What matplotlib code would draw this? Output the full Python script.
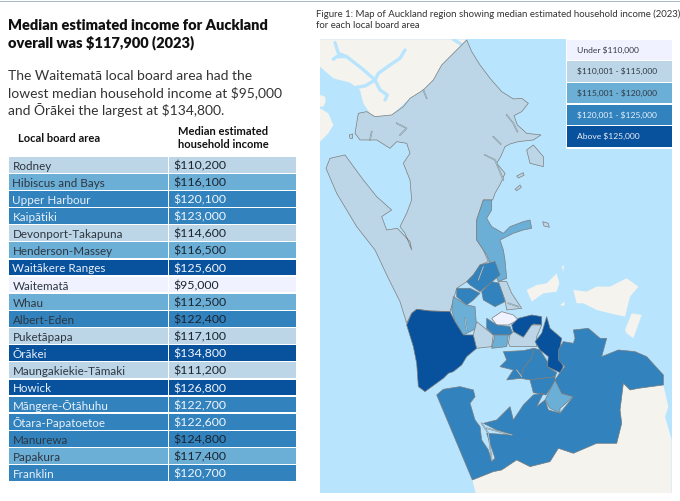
import matplotlib
matplotlib.use("Agg")
import matplotlib.pyplot as plt
from matplotlib.patches import Rectangle, Polygon

plt.rcParams['font.family'] = ['Lato', 'DejaVu Sans']

# ---- data ----
TITLE = ["Median estimated income for Auckland", "overall was \\$117,900 (2023)"]
INTRO = ["The Waitematā local board area had the",
         "lowest median household income at \\$95,000",
         "and Ōrākei the largest at \\$134,800."]
CAPTION = ["Figure 1: Map of Auckland region showing median estimated household income (2023)",
           "for each local board area"]
boards = ["Rodney", "Hibiscus and Bays", "Upper Harbour", "Kaipātiki", "Devonport-Takapuna",
          "Henderson-Massey", "Waitākere Ranges", "Waitematā", "Whau", "Albert-Eden",
          "Puketāpapa", "Ōrākei", "Maungakiekie-Tāmaki", "Howick", "Māngere-Ōtāhuhu",
          "Ōtara-Papatoetoe", "Manurewa", "Papakura", "Franklin"]
incomes = [110200, 116100, 120100, 123000, 114600, 116500, 125600, 95000, 112500, 122400,
           117100, 134800, 111200, 126800, 122700, 122600, 124800, 117400, 120700]
table_class = [1, 2, 3, 3, 1, 2, 4, 0, 2, 3, 1, 4, 1, 4, 3, 3, 3, 2, 3]
light_text = [0, 0, 1, 1, 0, 0, 1, 0, 0, 0, 0, 1, 0, 1, 1, 1, 0, 0, 1]
legend_labels = ["Under \\$110,000", "\\$110,001 - \\$115,000", "\\$115,001 - \\$120,000",
                 "\\$120,001 - \\$125,000", "Above \\$125,000"]
legend_light = [0, 0, 0, 1, 1]
palette = ["#f0f3ff", "#bcd6e7", "#6baed6", "#3182bd", "#08519c"]

# map outlines, in the reference's map coordinates
rodney = [(470,120),(485,155),(510,195),(540,235),(575,275),(610,297),(635,295),(655,310),(635,335),
          (612,347),(622,375),(650,400),(693,405),(670,420),(625,425),(600,432),(585,440),(572,470),
          (560,490),(585,520),(572,550),(555,580),(548,600),(520,600),(500,660),(500,720),(520,750),
          (535,785),(510,795),(490,825),(470,845),(440,865),(430,900),(420,935),(360,933),(320,928),
          (305,940),(290,970),(270,905),(235,835),(195,750),(140,680),(80,580),(48,505),(60,475),
          (105,465),(160,540),(200,590),(245,630),(215,650),(230,690),(262,685),(300,725),(305,750),
          (285,700),(270,680),(290,640),(305,600),(300,540),(280,490),(300,460),(290,430),(260,425),
          (240,445),(200,420),(150,420),(135,400),(145,340),(170,335),(195,350),(245,345),(280,320),
          (300,295),(340,270),(370,240),(395,195),(440,150)]
hibiscus = [(520,600),(545,600),(545,630),(530,655),(545,680),(580,700),(600,680),(640,665),(660,660),
            (665,685),(640,690),(610,700),(570,720),(580,750),(585,780),(590,835),(565,845),(545,800),
            (530,765),(520,750),(500,720),(500,660)]
upper_harbour = [(510,795),(555,785),(570,825),(540,850),(510,875),(480,855),(470,845),(490,825)]
kaipatiki = [(545,845),(570,850),(585,905),(555,920),(520,900),(515,875)]
devonport = [(565,845),(590,845),(605,880),(635,925),(590,930),(585,900)]
west_board = [(440,865),(480,865),(510,880),(490,900),(470,915),(440,890)]
henderson = [(430,890),(470,915),(495,920),(500,985),(460,1005),(435,965),(425,930)]
waitakere = [(290,975),(305,940),(320,928),(360,933),(420,935),(435,965),(460,1005),(490,1005),
             (500,1045),(470,1070),(455,1095),(430,1115),(415,1120),(400,1135),(345,1175),(325,1160),
             (320,1090),(310,1040)]
whau = [(490,1005),(500,965),(525,985),(550,1005),(545,1040),(500,1045)]
waitemata = [(545,955),(575,935),(610,945),(625,960),(595,975),(560,975)]
albert_eden = [(530,955),(560,975),(600,980),(610,1005),(575,1005),(550,1005),(530,985)]
orakei = [(625,955),(665,945),(695,950),(695,975),(670,972),(665,990),(640,1012),(610,995),(605,975)]
puketapapa = [(555,1005),(595,1005),(590,1040),(545,1045)]
maungakiekie = [(600,1005),(610,995),(640,1012),(665,975),(695,975),(680,1010),(680,1040),(600,1040),(595,1030)]
howick = [(710,950),(720,985),(755,1015),(745,1070),(760,1100),(750,1118),(712,1100),(715,1070),(690,1050),(675,1025),(695,1000)]
mangere = [(580,1055),(640,1052),(672,1045),(665,1075),(640,1105),(632,1135),(590,1140),(610,1110),(570,1100),(590,1080)]
otara = [(672,1045),(690,1050),(712,1085),(712,1100),(740,1118),(735,1130),(660,1140),(632,1135),(640,1105),(665,1075)]
manurewa = [(660,1140),(735,1130),(735,1145),(718,1170),(708,1185),(670,1178)]
papakura = [(735,1140),(750,1160),(755,1180),(790,1190),(750,1225),(750,1240),(720,1225),(705,1200),(720,1170)]
franklin = [(790,990),(835,985),(870,1015),(890,1015),(875,1070),(925,1050),(975,1055),(1010,1070),(1060,1125),
            (1060,1155),(985,1165),(960,1170),(940,1150),(930,1230),(935,1270),(920,1330),(860,1330),(790,1360),
            (745,1345),(720,1385),(660,1400),(620,1380),(575,1410),(550,1415),(487,1440),(380,1185),(400,1168),
            (450,1160),(490,1170),(495,1190),(480,1210),(495,1260),(510,1280),(515,1320),(535,1350),(545,1385),
            (555,1375),(540,1330),(530,1300),(610,1305),(560,1290),(520,1270),(560,1260),(600,1220),(610,1260),
            (640,1215),(670,1185),(700,1180),(680,1220),(705,1200),(715,1230),(750,1240),(790,1190),(755,1180),
            (735,1140),(750,1118),(765,1100),(745,1080),(745,1050),(760,1025),(790,1030),(795,1015)]
kawau = [(650,450),(670,435),(700,470),(700,500),(660,490)]
islets = [[(620,528),(640,518),(642,526),(625,534)], [(615,568),(630,555),(634,562),(620,572)],
          [(698,665),(715,670),(718,682),(702,678)], [(118,405),(128,402),(128,415),(120,415)]]
land_north = [(30,118),(470,118),(440,150),(395,195),(370,240),(340,270),(300,295),(245,345),(195,350),
              (180,340),(160,310),(150,270),(120,248),(70,235),(30,200)]
land_bits = [[(30,285),(45,290),(47,305),(40,320),(30,320)], [(30,325),(55,340),(70,375),(55,400),(30,425)],
             [(487,1440),(550,1415),(575,1410),(620,1380),(660,1400),(720,1385),(745,1345),(790,1360),(860,1330),
              (920,1330),(935,1270),(930,1230),(940,1150),(960,1170),(1060,1155),(1075,1220),(1065,1250),
              (1085,1320),(1085,1480),(497,1480)],
             [(650,870),(680,855),(710,850),(740,820),(748,850),(740,875),(700,880),(665,905)],
             [(790,870),(830,875),(860,860),(900,860),(950,835),(985,860),(960,890),(945,950),(900,940),(860,930),(820,910),(800,910)],
             [(945,990),(965,940),(995,945),(970,1015),(950,1000)],
             [(750,915),(765,905),(762,918)], [(755,800),(762,795),(760,815)]]
north_inlets = [[(75,128),(85,160),(110,170),(155,205),(195,240),(205,220),(240,195),(270,175),(285,150)],
                [(110,170),(80,170),(70,178)], [(195,240),(165,258),(140,262)],
                [(195,240),(210,270),(232,285),(225,300)], [(430,118),(452,132)]]
rodney_inlets = [[(590,345),(610,370),(622,395)], [(550,410),(572,432)], [(525,465),(555,480),(580,540)],
                 [(260,370),(290,385),(270,405)], [(340,270),(350,295)], [(185,395),(180,420)]]
harbour_inlets = [[(515,1270),(535,1300),(545,1380)], [(530,1285),(605,1305)], [(620,1110),(635,1130)],
                  [(505,840),(520,800)], [(465,955),(470,990)], [(595,910),(625,920)]]
boards_map = [(rodney, 1), (hibiscus, 2), (upper_harbour, 3), (kaipatiki, 3), (devonport, 1), (west_board, 3),
              (henderson, 2), (waitakere, 4), (whau, 1), (waitemata, 0), (albert_eden, 3), (orakei, 4),
              (puketapapa, 2), (maungakiekie, 1), (howick, 4), (mangere, 3), (otara, 3), (manurewa, 3),
              (papakura, 2), (franklin, 3), (kawau, 1)]

WATER, LAND, EDGE = "#b8e5fd", "#f4f3ee", "#7d7d7d"
W, H = 680, 501
fig = plt.figure(figsize=(W/100, H/100), dpi=100, facecolor="white")

# map panel
mx0, mx1, my0, my1 = 320, 671.7, 39.3, 493.3
mp = fig.add_axes([mx0/W, 1-my1/H, (mx1-mx0)/W, (my1-my0)/H])
mp.set_xlim(30, 1085); mp.set_ylim(1480, 118); mp.axis("off")
mp.add_patch(Rectangle((30, 118), 1055, 1362, fc=WATER, ec="none", zorder=0))
mp.add_patch(Polygon(land_north, fc=LAND, ec="none", zorder=1))
for b in land_bits:
    mp.add_patch(Polygon(b, fc=LAND, ec="none", zorder=1))
for l in north_inlets:
    xs, ys = zip(*l)
    mp.plot(xs, ys, color=WATER, lw=2.4, zorder=2, solid_capstyle="round")
for poly, c in boards_map:
    mp.add_patch(Polygon(poly, fc=palette[c], ec=EDGE, lw=0.5, zorder=3))
for poly in islets:
    mp.add_patch(Polygon(poly, fc=palette[1], ec=EDGE, lw=0.5, zorder=3))
for l in rodney_inlets + harbour_inlets:
    xs, ys = zip(*l)
    mp.plot(xs, ys, color=EDGE, lw=1.0, zorder=4)
    mp.plot(xs, ys, color=WATER, lw=0.4, zorder=5)

# page overlay in pixel coordinates
ax = fig.add_axes([0, 0, 1, 1], facecolor="none")
ax.set_xlim(0, W); ax.set_ylim(H, 0); ax.axis("off")
ax.add_patch(Rectangle((0, 0.6), W, 1.0, fc="#a9b9c9", ec="none"))

for i, t in enumerate(TITLE):
    ax.text(8, 25 + i*17.3, t, fontsize=10.55, fontweight="heavy", color="#111111", va="center", ha="left")
for i, t in enumerate(INTRO):
    ax.text(8, 76 + i*17.1, t, fontsize=10.0, color="#333333", va="center", ha="left")
ax.text(18.5, 138.5, "Local board area", fontsize=8.0, fontweight="bold", color="#111111", va="center")
ax.text(178.5, 131.5, "Median estimated", fontsize=8.0, fontweight="bold", color="#111111", va="center")
ax.text(178.5, 144.5, "household income", fontsize=8.0, fontweight="bold", color="#111111", va="center")

top, step, h = 156.7, 17.14, 15.8
for i, (b, v, c, lt) in enumerate(zip(boards, incomes, table_class, light_text)):
    y = top + i*step
    ax.add_patch(Rectangle((9, y), 158.7, h, fc=palette[c], ec="none"))
    ax.add_patch(Rectangle((169, y), 126.5, h, fc=palette[c], ec="none"))
    tc = "#e8f0fa" if lt else "#2e3640"
    ax.text(12.5, y + h/2 + 1.5, b, fontsize=8.4, color=tc, va="center", ha="left")
    ax.text(173, y + h/2 + 1, f"\\${v:,}", fontsize=8.9, color=("#f2f6fc" if lt else "#1c2530"), va="center", ha="left")

for i, t in enumerate(CAPTION):
    ax.text(316, 14.5 + i*11.4, t, fontsize=6.9, color="#333333", va="center", ha="left")

ly, lh = 39.5, 21.7
ax.add_patch(Rectangle((566, ly - 1), 106, 5*lh + 1.5, fc="white", ec="none"))
for i, (t, lt) in enumerate(zip(legend_labels, legend_light)):
    y = ly + i*lh
    ax.add_patch(Rectangle((567, y), 104.7, lh - 1.2, fc=palette[i], ec="none"))
    ax.text(576.7, y + (lh-1.2)/2, t, fontsize=6.1, color=("#e8f0fa" if lt else "#333a44"), va="center", ha="left")

fig.savefig("out.png", dpi=100)
